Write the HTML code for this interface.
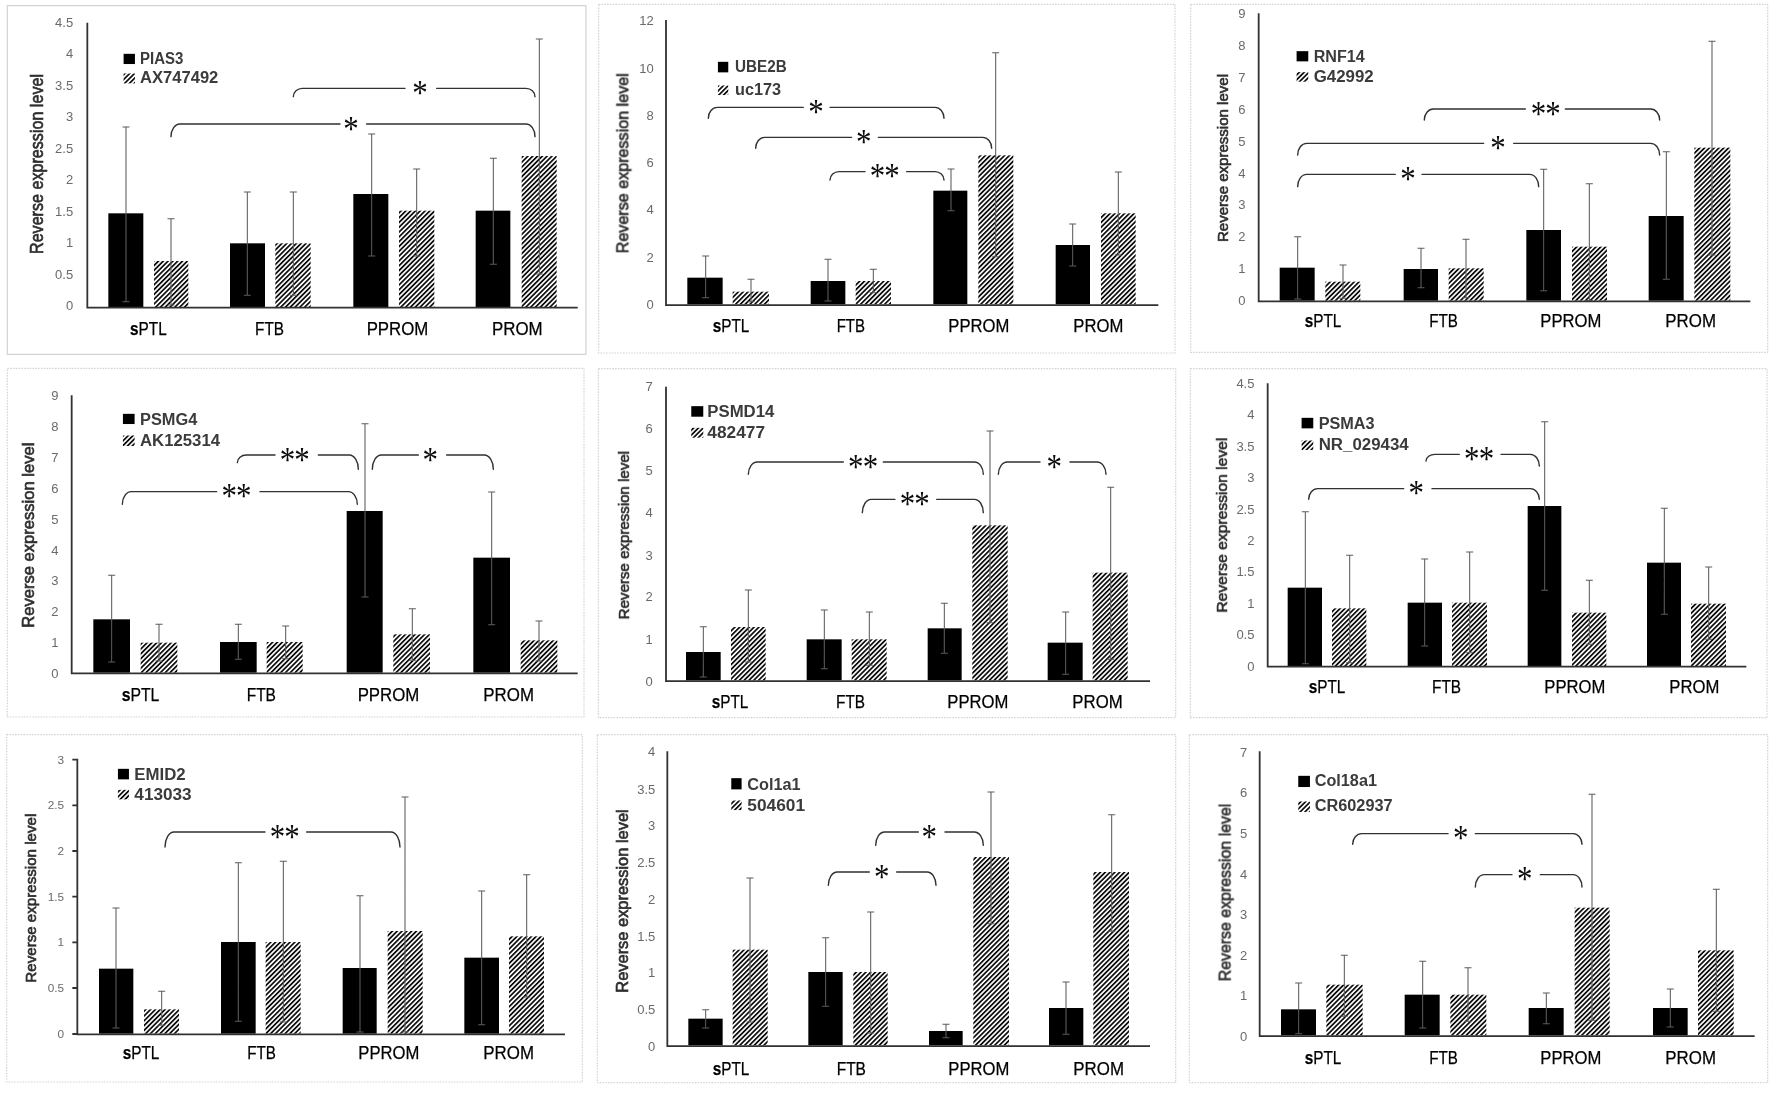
<!DOCTYPE html>
<html lang="en"><head><meta charset="utf-8"><title>Reverse expression level charts</title>
<style>html,body{margin:0;padding:0;background:#fff;}svg{display:block;}text{font-family:"Liberation Sans",sans-serif;}.tk{font-size:13px;fill:#6a6a6a;text-anchor:end;}.yt{font-size:17.5px;fill:#2e2e2e;stroke:#2e2e2e;stroke-width:0.65px;}.ct{font-size:18.5px;fill:#000;stroke:#000;stroke-width:0.25px;}.lg{font-size:16.8px;fill:#3a3a3a;font-weight:bold;}.st{font-family:"Liberation Serif",serif;font-size:36px;fill:#0a0a0a;text-anchor:middle;}.eb{stroke:#5c5c5c;stroke-width:1.05;fill:none;}.br{stroke:#303030;stroke-width:1.4;fill:none;stroke-linecap:round;}.ax{stroke:#303030;stroke-width:1.8;fill:none;}.bd{stroke:#d4d4d4;stroke-width:1.2;fill:#fff;stroke-dasharray:1.6 1.2;}.bd0{stroke:#d2d2d2;stroke-width:1.2;fill:#fff;}</style></head><body>
<svg width="1772" height="1098" viewBox="0 0 1772 1098">
<defs><filter id="bl" x="0" y="0" width="1772" height="1098" filterUnits="userSpaceOnUse"><feGaussianBlur stdDeviation="0.45"/></filter><pattern id="h" width="3.4" height="3.4" patternUnits="userSpaceOnUse" patternTransform="rotate(-45)"><rect width="3.4" height="3.4" fill="#fff"/><rect width="3.4" height="1.75" fill="#111"/></pattern></defs>
<rect width="1772" height="1098" fill="#fff"/>
<g filter="url(#bl)">
<g>
<rect class="bd0" x="7.33" y="5.67" width="578.67" height="348.67"/>
<rect x="108.33" y="213.33" width="35" height="93.67" fill="#000"/>
<rect x="154" y="261" width="34.33" height="46" fill="url(#h)"/>
<rect x="230" y="243.33" width="35" height="63.67" fill="#000"/>
<rect x="275.33" y="243.33" width="35.33" height="63.67" fill="url(#h)"/>
<rect x="353.33" y="194" width="35" height="113" fill="#000"/>
<rect x="399" y="210.67" width="35.33" height="96.33" fill="url(#h)"/>
<rect x="475.67" y="210.67" width="34.67" height="96.33" fill="#000"/>
<rect x="521.67" y="156" width="35" height="151" fill="url(#h)"/>
<path class="eb" d="M126 127V301.67M122.5 127H129.5M122.5 301.67H129.5M171 218.67V305M167.5 218.67H174.5M167.5 305H174.5M247.33 192V295.33M243.83 192H250.83M243.83 295.33H250.83M293.33 192V295.33M289.83 192H296.83M289.83 295.33H296.83M371.67 134V256M368.17 134H375.17M368.17 256H375.17M416.67 169V256M413.17 169H420.17M413.17 256H420.17M493.33 158.33V264.33M489.83 158.33H496.83M489.83 264.33H496.83M539.33 39V274M535.83 39H542.83M535.83 274H542.83"/>
<path class="ax" d="M87.33 22.67V308.4M86.48 307.7H577.67"/>
<text class="tk" x="73.13" y="26.99">4.5</text>
<text class="tk" x="73.13" y="58.32">4</text>
<text class="tk" x="73.13" y="89.99">3.5</text>
<text class="tk" x="73.13" y="121.32">3</text>
<text class="tk" x="73.13" y="152.99">2.5</text>
<text class="tk" x="73.13" y="184.32">2</text>
<text class="tk" x="73.13" y="215.99">1.5</text>
<text class="tk" x="73.13" y="247.32">1</text>
<text class="tk" x="73.13" y="278.99">0.5</text>
<text class="tk" x="73.13" y="310.32">0</text>
<text class="yt" style="font-size:17.5px" transform="translate(37.67 164) rotate(-90)" text-anchor="middle" textLength="180" lengthAdjust="spacingAndGlyphs" x="0" y="5.25">Reverse expression level</text>
<text class="ct" x="130" y="334.83" textLength="36.67" lengthAdjust="spacingAndGlyphs"><tspan font-weight="bold">s</tspan>PTL</text>
<text class="ct" x="255" y="334.83" textLength="29" lengthAdjust="spacingAndGlyphs">FTB</text>
<text class="ct" x="366.67" y="334.83" textLength="61.67" lengthAdjust="spacingAndGlyphs">PPROM</text>
<text class="ct" x="492" y="334.83" textLength="50.67" lengthAdjust="spacingAndGlyphs">PROM</text>
<rect x="123.6" y="53.83" width="11.33" height="10.2" fill="#000"/>
<text class="lg" x="140" y="63.63" textLength="43.33" lengthAdjust="spacingAndGlyphs">PIAS3</text>
<rect x="123.6" y="73.5" width="11.33" height="9.87" fill="url(#h)"/>
<text class="lg" x="140" y="82.97" textLength="78.33" lengthAdjust="spacingAndGlyphs">AX747492</text>
<path class="br" d="M293.33 96.67A9 8.33 0 0 1 302.33 88.33H405M436.67 88.33H526A9 8.33 0 0 1 535 96.67"/>
<text class="st" transform="translate(419.97 104.85) scale(0.86 1)">*</text>
<path class="br" d="M171 136.67A9 12.67 0 0 1 180 124H340M366.67 124H526A9 12.67 0 0 1 535 136.67"/>
<text class="st" transform="translate(350.97 140.52) scale(0.86 1)">*</text>
</g>
<g>
<rect class="bd" x="598.67" y="4.33" width="576.33" height="348.67"/>
<rect x="687.33" y="277.67" width="35.33" height="26.67" fill="#000"/>
<rect x="732.67" y="291.67" width="36.33" height="12.67" fill="url(#h)"/>
<rect x="810.67" y="281" width="34.67" height="23.33" fill="#000"/>
<rect x="855.67" y="281" width="35.33" height="23.33" fill="url(#h)"/>
<rect x="933.33" y="190.67" width="34" height="113.67" fill="#000"/>
<rect x="978.33" y="155.33" width="35" height="149" fill="url(#h)"/>
<rect x="1055.67" y="245" width="34.33" height="59.33" fill="#000"/>
<rect x="1101" y="213.33" width="34.67" height="91" fill="url(#h)"/>
<path class="eb" d="M705.67 256V297.67M702.17 256H709.17M702.17 297.67H709.17M751 279.33V301.67M747.5 279.33H754.5M747.5 301.67H754.5M828 259.33V301M824.5 259.33H831.5M824.5 301H831.5M873.33 269.33V292.67M869.83 269.33H876.83M869.83 292.67H876.83M951 169V210.67M947.5 169H954.5M947.5 210.67H954.5M995.67 52.67V256.67M992.17 52.67H999.17M992.17 256.67H999.17M1072.67 224V266M1069.17 224H1076.17M1069.17 266H1076.17M1118.33 172V255M1114.83 172H1121.83M1114.83 255H1121.83"/>
<path class="ax" d="M666 20V305.73M665.15 305.03H1158.33"/>
<text class="tk" x="653.8" y="24.99">12</text>
<text class="tk" x="653.8" y="72.65">10</text>
<text class="tk" x="653.8" y="119.99">8</text>
<text class="tk" x="653.8" y="166.99">6</text>
<text class="tk" x="653.8" y="214.32">4</text>
<text class="tk" x="653.8" y="261.65">2</text>
<text class="tk" x="653.8" y="309.32">0</text>
<text class="yt" style="font-size:16.3px" transform="translate(623.33 163.33) rotate(-90)" text-anchor="middle" textLength="180" lengthAdjust="spacingAndGlyphs" x="0" y="4.89">Reverse expression level</text>
<text class="ct" x="712.67" y="332.17" textLength="36.67" lengthAdjust="spacingAndGlyphs"><tspan font-weight="bold">s</tspan>PTL</text>
<text class="ct" x="836.67" y="332.17" textLength="28.33" lengthAdjust="spacingAndGlyphs">FTB</text>
<text class="ct" x="948.33" y="332.17" textLength="61" lengthAdjust="spacingAndGlyphs">PPROM</text>
<text class="ct" x="1073.33" y="332.17" textLength="50" lengthAdjust="spacingAndGlyphs">PROM</text>
<rect x="717.93" y="61.83" width="10.33" height="10.53" fill="#000"/>
<text class="lg" x="735" y="71.97" textLength="51.67" lengthAdjust="spacingAndGlyphs">UBE2B</text>
<rect x="717.93" y="85.5" width="10.33" height="9.53" fill="url(#h)"/>
<text class="lg" x="735" y="94.63" textLength="46" lengthAdjust="spacingAndGlyphs">uc173</text>
<path class="br" d="M708.33 118.33A9 11 0 0 1 717.33 107.33H803.33M830 107.33H935A9 11 0 0 1 944 118.33"/>
<text class="st" transform="translate(815.97 123.85) scale(0.86 1)">*</text>
<path class="br" d="M755.67 148.33A9 11 0 0 1 764.67 137.33H851.67M878.33 137.33H982.67A9 11 0 0 1 991.67 148.33"/>
<text class="st" transform="translate(863.63 153.85) scale(0.86 1)">*</text>
<path class="br" d="M830 180A9 8.33 0 0 1 839 171.67H865M906.67 171.67H935A9 8.33 0 0 1 944 180"/>
<text class="st" transform="translate(884.3 188.19) scale(0.86 1)" letter-spacing="-1.1">**</text>
</g>
<g>
<rect class="bd" x="1190.67" y="4.33" width="577" height="348"/>
<rect x="1279.67" y="267.67" width="35" height="33" fill="#000"/>
<rect x="1325.33" y="281.67" width="35" height="19" fill="url(#h)"/>
<rect x="1403.67" y="269" width="34.33" height="31.67" fill="#000"/>
<rect x="1448.67" y="268.33" width="35" height="32.33" fill="url(#h)"/>
<rect x="1526.33" y="230" width="34.67" height="70.67" fill="#000"/>
<rect x="1572" y="246.67" width="35" height="54" fill="url(#h)"/>
<rect x="1648.67" y="216" width="35" height="84.67" fill="#000"/>
<rect x="1694.33" y="147.67" width="36" height="153" fill="url(#h)"/>
<path class="eb" d="M1297.67 236.67V299M1294.17 236.67H1301.17M1294.17 299H1301.17M1343 265V298.33M1339.5 265H1346.5M1339.5 298.33H1346.5M1421 248.33V287.67M1417.5 248.33H1424.5M1417.5 287.67H1424.5M1466 239.33V297.67M1462.5 239.33H1469.5M1462.5 297.67H1469.5M1543.67 169.33V290.67M1540.17 169.33H1547.17M1540.17 290.67H1547.17M1589.33 183.67V300.67M1585.83 183.67H1592.83M1585.83 300.67H1592.83M1666.33 151.67V279.33M1662.83 151.67H1669.83M1662.83 279.33H1669.83M1712 41.33V255M1708.5 41.33H1715.5M1708.5 255H1715.5"/>
<path class="ax" d="M1258.67 13.33V302.07M1257.82 301.37H1750.33"/>
<text class="tk" x="1245.47" y="18.32">9</text>
<text class="tk" x="1245.47" y="49.99">8</text>
<text class="tk" x="1245.47" y="81.99">7</text>
<text class="tk" x="1245.47" y="113.65">6</text>
<text class="tk" x="1245.47" y="145.65">5</text>
<text class="tk" x="1245.47" y="177.65">4</text>
<text class="tk" x="1245.47" y="209.32">3</text>
<text class="tk" x="1245.47" y="241.32">2</text>
<text class="tk" x="1245.47" y="273.32">1</text>
<text class="tk" x="1245.47" y="305.32">0</text>
<text class="yt" style="font-size:15px" transform="translate(1223 158) rotate(-90)" text-anchor="middle" textLength="168" lengthAdjust="spacingAndGlyphs" x="0" y="4.5">Reverse expression level</text>
<text class="ct" x="1304.67" y="327.17" textLength="36.67" lengthAdjust="spacingAndGlyphs"><tspan font-weight="bold">s</tspan>PTL</text>
<text class="ct" x="1429.33" y="327.17" textLength="28.67" lengthAdjust="spacingAndGlyphs">FTB</text>
<text class="ct" x="1540.33" y="327.17" textLength="61" lengthAdjust="spacingAndGlyphs">PPROM</text>
<text class="ct" x="1665.33" y="327.17" textLength="50.67" lengthAdjust="spacingAndGlyphs">PROM</text>
<rect x="1296.6" y="51.17" width="11.67" height="10.2" fill="#000"/>
<text class="lg" x="1313.67" y="61.97" textLength="51" lengthAdjust="spacingAndGlyphs">RNF14</text>
<rect x="1296.6" y="72.17" width="11.67" height="9.53" fill="url(#h)"/>
<text class="lg" x="1313.67" y="81.97" textLength="60" lengthAdjust="spacingAndGlyphs">G42992</text>
<path class="br" d="M1424.33 120A9 11 0 0 1 1433.33 109H1525.33M1565.33 109H1650.67A9 11 0 0 1 1659.67 120"/>
<text class="st" transform="translate(1545.3 125.52) scale(0.86 1)" letter-spacing="-1.1">**</text>
<path class="br" d="M1297.67 155A9 11.67 0 0 1 1306.67 143.33H1483.67M1513.67 143.33H1650.67A9 11.67 0 0 1 1659.67 155"/>
<text class="st" transform="translate(1497.97 159.85) scale(0.86 1)">*</text>
<path class="br" d="M1297.67 186.67A9 12.33 0 0 1 1306.67 174.33H1395.33M1422 174.33H1529.67A9 12.33 0 0 1 1538.67 186.67"/>
<text class="st" transform="translate(1407.97 190.85) scale(0.86 1)">*</text>
</g>
<g>
<rect class="bd" x="7.33" y="368.33" width="576.67" height="348.67"/>
<rect x="93.33" y="619.33" width="36.67" height="53.33" fill="#000"/>
<rect x="140.67" y="642.67" width="36.67" height="30" fill="url(#h)"/>
<rect x="220" y="642" width="36.67" height="30.67" fill="#000"/>
<rect x="266.67" y="642" width="36" height="30.67" fill="url(#h)"/>
<rect x="346.67" y="511" width="36" height="161.67" fill="#000"/>
<rect x="393.33" y="634.33" width="36.67" height="38.33" fill="url(#h)"/>
<rect x="473.33" y="557.67" width="36.67" height="115" fill="#000"/>
<rect x="520.67" y="640.33" width="36.67" height="32.33" fill="url(#h)"/>
<path class="eb" d="M111.67 575.33V662M108.17 575.33H115.17M108.17 662H115.17M159 624.33V661M155.5 624.33H162.5M155.5 661H162.5M238.33 624.33V659.33M234.83 624.33H241.83M234.83 659.33H241.83M285.67 626V658.67M282.17 626H289.17M282.17 658.67H289.17M365 423.67V597M361.5 423.67H368.5M361.5 597H368.5M412.33 608.67V660.33M408.83 608.67H415.83M408.83 660.33H415.83M491.67 492V624.67M488.17 492H495.17M488.17 624.67H495.17M539 621V661M535.5 621H542.5M535.5 661H542.5"/>
<path class="ax" d="M71.67 395.33V674.07M70.82 673.37H577.67"/>
<text class="tk" x="58.47" y="400.32">9</text>
<text class="tk" x="58.47" y="431.32">8</text>
<text class="tk" x="58.47" y="461.99">7</text>
<text class="tk" x="58.47" y="492.99">6</text>
<text class="tk" x="58.47" y="523.65">5</text>
<text class="tk" x="58.47" y="554.65">4</text>
<text class="tk" x="58.47" y="585.32">3</text>
<text class="tk" x="58.47" y="616.32">2</text>
<text class="tk" x="58.47" y="646.99">1</text>
<text class="tk" x="58.47" y="677.99">0</text>
<text class="yt" style="font-size:15.8px" transform="translate(29 535.17) rotate(-90)" text-anchor="middle" textLength="185" lengthAdjust="spacingAndGlyphs" x="0" y="4.74">Reverse expression level</text>
<text class="ct" x="121.67" y="700.5" textLength="37.67" lengthAdjust="spacingAndGlyphs"><tspan font-weight="bold">s</tspan>PTL</text>
<text class="ct" x="246.67" y="700.5" textLength="29.33" lengthAdjust="spacingAndGlyphs">FTB</text>
<text class="ct" x="357.67" y="700.5" textLength="61.67" lengthAdjust="spacingAndGlyphs">PPROM</text>
<text class="ct" x="483.33" y="700.5" textLength="50.67" lengthAdjust="spacingAndGlyphs">PROM</text>
<rect x="122.93" y="413.83" width="11.67" height="10.2" fill="#000"/>
<text class="lg" x="140" y="424.63" textLength="57.33" lengthAdjust="spacingAndGlyphs">PSMG4</text>
<rect x="122.93" y="435.5" width="11.67" height="10.53" fill="url(#h)"/>
<text class="lg" x="140" y="446.3" textLength="80" lengthAdjust="spacingAndGlyphs">AK125314</text>
<path class="br" d="M237.33 462.67A9 7.67 0 0 1 246.33 455H275M318.33 455H349.33A9 14.33 0 0 1 358.33 469.33"/>
<text class="st" transform="translate(294.3 471.52) scale(0.86 1)" letter-spacing="-1.1">**</text>
<path class="br" d="M372.33 469.33A9 14.33 0 0 1 381.33 455H418.33M446.67 455H484.33A9 14.33 0 0 1 493.33 469.33"/>
<text class="st" transform="translate(430.3 471.52) scale(0.86 1)">*</text>
<path class="br" d="M122.33 504.33A9 12.67 0 0 1 131.33 491.67H216.67M260 491.67H348.33A9 12.67 0 0 1 357.33 504.33"/>
<text class="st" transform="translate(235.97 508.19) scale(0.86 1)" letter-spacing="-1.1">**</text>
</g>
<g>
<rect class="bd" x="598.33" y="368.67" width="577.33" height="349"/>
<rect x="686" y="652" width="34.67" height="28.33" fill="#000"/>
<rect x="731" y="627" width="34.67" height="53.33" fill="url(#h)"/>
<rect x="806.67" y="639.33" width="35" height="41" fill="#000"/>
<rect x="851.67" y="639.33" width="35" height="41" fill="url(#h)"/>
<rect x="927.67" y="628.33" width="34" height="52" fill="#000"/>
<rect x="972.33" y="525.33" width="35.33" height="155" fill="url(#h)"/>
<rect x="1047.67" y="642.67" width="35" height="37.67" fill="#000"/>
<rect x="1092.67" y="572.67" width="35" height="107.67" fill="url(#h)"/>
<path class="eb" d="M703.33 626.67V677M699.83 626.67H706.83M699.83 677H706.83M748.33 590V662M744.83 590H751.83M744.83 662H751.83M824.33 610V668.67M820.83 610H827.83M820.83 668.67H827.83M869.33 612V665.33M865.83 612H872.83M865.83 665.33H872.83M944.33 603.33V653.33M940.83 603.33H947.83M940.83 653.33H947.83M990 431V622.67M986.5 431H993.5M986.5 622.67H993.5M1065.67 612V674.33M1062.17 612H1069.17M1062.17 674.33H1069.17M1110.67 487.33V659.33M1107.17 487.33H1114.17M1107.17 659.33H1114.17"/>
<path class="ax" d="M666 386.67V681.73M665.15 681.03H1150"/>
<text class="tk" x="652.8" y="391.32">7</text>
<text class="tk" x="652.8" y="432.99">6</text>
<text class="tk" x="652.8" y="475.32">5</text>
<text class="tk" x="652.8" y="516.99">4</text>
<text class="tk" x="652.8" y="559.65">3</text>
<text class="tk" x="652.8" y="601.32">2</text>
<text class="tk" x="652.8" y="643.65">1</text>
<text class="tk" x="652.8" y="685.65">0</text>
<text class="yt" style="font-size:14.6px" transform="translate(625 535.17) rotate(-90)" text-anchor="middle" textLength="168.33" lengthAdjust="spacingAndGlyphs" x="0" y="4.38">Reverse expression level</text>
<text class="ct" x="711.67" y="708.17" textLength="36.67" lengthAdjust="spacingAndGlyphs"><tspan font-weight="bold">s</tspan>PTL</text>
<text class="ct" x="836" y="708.17" textLength="29" lengthAdjust="spacingAndGlyphs">FTB</text>
<text class="ct" x="947.33" y="708.17" textLength="61" lengthAdjust="spacingAndGlyphs">PPROM</text>
<text class="ct" x="1072.33" y="708.17" textLength="50.33" lengthAdjust="spacingAndGlyphs">PROM</text>
<rect x="691.27" y="406.17" width="12" height="10.53" fill="#000"/>
<text class="lg" x="707.33" y="416.97" textLength="67" lengthAdjust="spacingAndGlyphs">PSMD14</text>
<rect x="691.27" y="427.83" width="12" height="9.87" fill="url(#h)"/>
<text class="lg" x="707.33" y="437.97" textLength="57.67" lengthAdjust="spacingAndGlyphs">482477</text>
<path class="br" d="M748.33 474.33A9 12.33 0 0 1 757.33 462H843.33M883.33 462H974.33A9 12.33 0 0 1 983.33 474.33"/>
<text class="st" transform="translate(862.63 478.52) scale(0.86 1)" letter-spacing="-1.1">**</text>
<path class="br" d="M998.33 474.33A9 12.33 0 0 1 1007.33 462H1040M1070 462H1097A9 12.33 0 0 1 1106 474.33"/>
<text class="st" transform="translate(1054.3 478.52) scale(0.86 1)">*</text>
<path class="br" d="M862.33 512.67A9 13.33 0 0 1 871.33 499.33H895M936.67 499.33H974.33A9 13.33 0 0 1 983.33 512.67"/>
<text class="st" transform="translate(914.3 515.85) scale(0.86 1)" letter-spacing="-1.1">**</text>
</g>
<g>
<rect class="bd" x="1190.33" y="368.67" width="576.67" height="349"/>
<rect x="1287.67" y="587.67" width="34.33" height="78.33" fill="#000"/>
<rect x="1332" y="608.33" width="34.33" height="57.67" fill="url(#h)"/>
<rect x="1407.67" y="602.67" width="34.33" height="63.33" fill="#000"/>
<rect x="1452" y="602.67" width="35" height="63.33" fill="url(#h)"/>
<rect x="1527.67" y="506" width="33.67" height="160" fill="#000"/>
<rect x="1572" y="612.67" width="34.33" height="53.33" fill="url(#h)"/>
<rect x="1647" y="562.67" width="34" height="103.33" fill="#000"/>
<rect x="1691" y="603.67" width="35" height="62.33" fill="url(#h)"/>
<path class="eb" d="M1305.33 511.67V663.67M1301.83 511.67H1308.83M1301.83 663.67H1308.83M1349.67 555.33V662.67M1346.17 555.33H1353.17M1346.17 662.67H1353.17M1424.67 559V646M1421.17 559H1428.17M1421.17 646H1428.17M1469.67 552V652.67M1466.17 552H1473.17M1466.17 652.67H1473.17M1544.67 421.67V590.33M1541.17 421.67H1548.17M1541.17 590.33H1548.17M1589.33 580.33V644.33M1585.83 580.33H1592.83M1585.83 644.33H1592.83M1664.33 508.33V614.33M1660.83 508.33H1667.83M1660.83 614.33H1667.83M1708.67 567V639.33M1705.17 567H1712.17M1705.17 639.33H1712.17"/>
<path class="ax" d="M1267.67 383.33V667.4M1266.82 666.7H1746.33"/>
<text class="tk" x="1254.47" y="387.65">4.5</text>
<text class="tk" x="1254.47" y="419.32">4</text>
<text class="tk" x="1254.47" y="450.65">3.5</text>
<text class="tk" x="1254.47" y="481.99">3</text>
<text class="tk" x="1254.47" y="513.65">2.5</text>
<text class="tk" x="1254.47" y="544.99">2</text>
<text class="tk" x="1254.47" y="576.32">1.5</text>
<text class="tk" x="1254.47" y="607.99">1</text>
<text class="tk" x="1254.47" y="639.32">0.5</text>
<text class="tk" x="1254.47" y="670.65">0</text>
<text class="yt" style="font-size:15px" transform="translate(1222 525.17) rotate(-90)" text-anchor="middle" textLength="175" lengthAdjust="spacingAndGlyphs" x="0" y="4.5">Reverse expression level</text>
<text class="ct" x="1308.67" y="693.17" textLength="36.67" lengthAdjust="spacingAndGlyphs"><tspan font-weight="bold">s</tspan>PTL</text>
<text class="ct" x="1432" y="693.17" textLength="29" lengthAdjust="spacingAndGlyphs">FTB</text>
<text class="ct" x="1544.33" y="693.17" textLength="61" lengthAdjust="spacingAndGlyphs">PPROM</text>
<text class="ct" x="1669.33" y="693.17" textLength="50" lengthAdjust="spacingAndGlyphs">PROM</text>
<rect x="1301.6" y="417.83" width="11.67" height="10.53" fill="#000"/>
<text class="lg" x="1318.67" y="428.63" textLength="56" lengthAdjust="spacingAndGlyphs">PSMA3</text>
<rect x="1301.6" y="440.5" width="11.67" height="9.53" fill="url(#h)"/>
<text class="lg" x="1318.67" y="450.3" textLength="90" lengthAdjust="spacingAndGlyphs">NR_029434</text>
<path class="br" d="M1426 461A9 6.67 0 0 1 1435 454.33H1459.33M1501 454.33H1530.33A9 11.67 0 0 1 1539.33 466"/>
<text class="st" transform="translate(1478.63 470.85) scale(0.86 1)" letter-spacing="-1.1">**</text>
<path class="br" d="M1308.67 499.33A9 10.67 0 0 1 1317.67 488.67H1403.67M1432 488.67H1530.33A9 10.67 0 0 1 1539.33 499.33"/>
<text class="st" transform="translate(1416.3 505.19) scale(0.86 1)">*</text>
</g>
<g>
<rect class="bd" x="6.67" y="734.67" width="575.67" height="347.33"/>
<rect x="99" y="968.67" width="34.33" height="65" fill="#000"/>
<rect x="144" y="1009.33" width="35" height="24.33" fill="url(#h)"/>
<rect x="221" y="942" width="34.67" height="91.67" fill="#000"/>
<rect x="265.67" y="942" width="35" height="91.67" fill="url(#h)"/>
<rect x="342.67" y="968" width="34" height="65.67" fill="#000"/>
<rect x="387.67" y="931" width="35" height="102.67" fill="url(#h)"/>
<rect x="464.33" y="957.67" width="34.67" height="76" fill="#000"/>
<rect x="509" y="936.33" width="35" height="97.33" fill="url(#h)"/>
<path class="eb" d="M116 908V1028M112.5 908H119.5M112.5 1028H119.5M161.67 991.33V1025.33M158.17 991.33H165.17M158.17 1025.33H165.17M238.33 862.67V1021.33M234.83 862.67H241.83M234.83 1021.33H241.83M283.33 861.33V1022M279.83 861.33H286.83M279.83 1022H286.83M360 895.67V1032M356.5 895.67H363.5M356.5 1032H363.5M405 797V1032M401.5 797H408.5M401.5 1032H408.5M481.67 891V1024.67M478.17 891H485.17M478.17 1024.67H485.17M526.67 874.67V997M523.17 874.67H530.17M523.17 997H530.17"/>
<path class="ax" d="M77.33 758.67V1035.07M76.48 1034.37H565M72.33 759.67H77.33M72.33 805.33H77.33M72.33 851H77.33M72.33 896.67H77.33M72.33 942.33H77.33M72.33 988H77.33M72.33 1034H77.33"/>
<text class="tk" style="font-size:11.8px" x="64.13" y="763.55">3</text>
<text class="tk" style="font-size:11.8px" x="64.13" y="809.22">2.5</text>
<text class="tk" style="font-size:11.8px" x="64.13" y="854.89">2</text>
<text class="tk" style="font-size:11.8px" x="64.13" y="900.55">1.5</text>
<text class="tk" style="font-size:11.8px" x="64.13" y="946.22">1</text>
<text class="tk" style="font-size:11.8px" x="64.13" y="991.89">0.5</text>
<text class="tk" style="font-size:11.8px" x="64.13" y="1037.89">0</text>
<text class="yt" style="font-size:15px" transform="translate(31.67 898.17) rotate(-90)" text-anchor="middle" textLength="169" lengthAdjust="spacingAndGlyphs" x="0" y="4.5">Reverse expression level</text>
<text class="ct" x="122.67" y="1059.17" textLength="36.67" lengthAdjust="spacingAndGlyphs"><tspan font-weight="bold">s</tspan>PTL</text>
<text class="ct" x="247.33" y="1059.17" textLength="28.67" lengthAdjust="spacingAndGlyphs">FTB</text>
<text class="ct" x="358.33" y="1059.17" textLength="61" lengthAdjust="spacingAndGlyphs">PPROM</text>
<text class="ct" x="483.33" y="1059.17" textLength="50.67" lengthAdjust="spacingAndGlyphs">PROM</text>
<rect x="117.93" y="768.83" width="11" height="10.53" fill="#000"/>
<text class="lg" x="134.33" y="779.97" textLength="51.33" lengthAdjust="spacingAndGlyphs">EMID2</text>
<rect x="117.93" y="789.83" width="11" height="9.53" fill="url(#h)"/>
<text class="lg" x="134.33" y="799.97" textLength="57.33" lengthAdjust="spacingAndGlyphs">413033</text>
<path class="br" d="M165 847A9 15 0 0 1 174 832H265M306.67 832H391A9 15 0 0 1 400 847"/>
<text class="st" transform="translate(284.3 848.52) scale(0.86 1)" letter-spacing="-1.1">**</text>
</g>
<g>
<rect class="bd" x="597.33" y="734.67" width="578.33" height="348"/>
<rect x="688.33" y="1018.67" width="34.33" height="26.67" fill="#000"/>
<rect x="732.67" y="949.67" width="35" height="95.67" fill="url(#h)"/>
<rect x="808.33" y="972" width="34.33" height="73.33" fill="#000"/>
<rect x="853.33" y="972" width="34.33" height="73.33" fill="url(#h)"/>
<rect x="929" y="1031" width="33.67" height="14.33" fill="#000"/>
<rect x="973.33" y="857" width="35.67" height="188.33" fill="url(#h)"/>
<rect x="1049" y="1008" width="34.33" height="37.33" fill="#000"/>
<rect x="1093.33" y="872" width="35.67" height="173.33" fill="url(#h)"/>
<path class="eb" d="M705.67 1009.67V1028M702.17 1009.67H709.17M702.17 1028H709.17M750 878V1022M746.5 878H753.5M746.5 1022H753.5M825.67 937.67V1006.33M822.17 937.67H829.17M822.17 1006.33H829.17M870.67 912V1033M867.17 912H874.17M867.17 1033H874.17M946 1024.33V1037.67M942.5 1024.33H949.5M942.5 1037.67H949.5M991 792V923.67M987.5 792H994.5M987.5 923.67H994.5M1066 982V1034.33M1062.5 982H1069.5M1062.5 1034.33H1069.5M1111.67 814.67V931.33M1108.17 814.67H1115.17M1108.17 931.33H1115.17"/>
<path class="ax" d="M667.33 751.33V1046.73M666.48 1046.03H1150"/>
<text class="tk" x="655.33" y="756.32">4</text>
<text class="tk" x="655.33" y="793.65">3.5</text>
<text class="tk" x="655.33" y="830.32">3</text>
<text class="tk" x="655.33" y="866.99">2.5</text>
<text class="tk" x="655.33" y="903.65">2</text>
<text class="tk" x="655.33" y="940.65">1.5</text>
<text class="tk" x="655.33" y="977.32">1</text>
<text class="tk" x="655.33" y="1013.99">0.5</text>
<text class="tk" x="655.33" y="1050.65">0</text>
<text class="yt" style="font-size:16.5px" transform="translate(623.33 901) rotate(-90)" text-anchor="middle" textLength="183.33" lengthAdjust="spacingAndGlyphs" x="0" y="4.95">Reverse expression level</text>
<text class="ct" x="712.67" y="1074.83" textLength="36.67" lengthAdjust="spacingAndGlyphs"><tspan font-weight="bold">s</tspan>PTL</text>
<text class="ct" x="836.67" y="1074.83" textLength="29.33" lengthAdjust="spacingAndGlyphs">FTB</text>
<text class="ct" x="948.33" y="1074.83" textLength="61" lengthAdjust="spacingAndGlyphs">PPROM</text>
<text class="ct" x="1073.33" y="1074.83" textLength="50.67" lengthAdjust="spacingAndGlyphs">PROM</text>
<rect x="731.27" y="778.17" width="10.33" height="11.2" fill="#000"/>
<text class="lg" x="747.33" y="789.97" textLength="53.33" lengthAdjust="spacingAndGlyphs">Col1a1</text>
<rect x="731.27" y="800.5" width="10.33" height="9.53" fill="url(#h)"/>
<text class="lg" x="747.33" y="811.3" textLength="57.67" lengthAdjust="spacingAndGlyphs">504601</text>
<path class="br" d="M875.67 845.33A9 13.33 0 0 1 884.67 832H918.33M945 832H974.33A9 13.33 0 0 1 983.33 845.33"/>
<text class="st" transform="translate(929.3 848.52) scale(0.86 1)">*</text>
<path class="br" d="M828.33 885.33A9 13.33 0 0 1 837.33 872H869.33M896.67 872H927A9 13.33 0 0 1 936 885.33"/>
<text class="st" transform="translate(881.63 888.52) scale(0.86 1)">*</text>
</g>
<g>
<rect class="bd" x="1189.33" y="734.67" width="578.33" height="348"/>
<rect x="1281" y="1009.33" width="35" height="26" fill="#000"/>
<rect x="1326.33" y="984.67" width="36.33" height="50.67" fill="url(#h)"/>
<rect x="1404.67" y="994.67" width="35" height="40.67" fill="#000"/>
<rect x="1450.33" y="994.67" width="36" height="40.67" fill="url(#h)"/>
<rect x="1528.67" y="1008" width="35" height="27.33" fill="#000"/>
<rect x="1574.67" y="907.67" width="35" height="127.67" fill="url(#h)"/>
<rect x="1653" y="1008" width="34.67" height="27.33" fill="#000"/>
<rect x="1698" y="950.33" width="35.67" height="85" fill="url(#h)"/>
<path class="eb" d="M1298.67 983V1033.67M1295.17 983H1302.17M1295.17 1033.67H1302.17M1344.33 955.33V1016.33M1340.83 955.33H1347.83M1340.83 1016.33H1347.83M1422.67 961.33V1028M1419.17 961.33H1426.17M1419.17 1028H1426.17M1468 967.67V1021.33M1464.5 967.67H1471.5M1464.5 1021.33H1471.5M1546.33 993V1023.67M1542.83 993H1549.83M1542.83 1023.67H1549.83M1592 794.33V1020.33M1588.5 794.33H1595.5M1588.5 1020.33H1595.5M1670.33 989V1027M1666.83 989H1673.83M1666.83 1027H1673.83M1716.33 889.33V1011.33M1712.83 889.33H1719.83M1712.83 1011.33H1719.83"/>
<path class="ax" d="M1259.67 751.33V1036.73M1258.82 1036.03H1754.67"/>
<text class="tk" x="1247.17" y="756.99">7</text>
<text class="tk" x="1247.17" y="797.32">6</text>
<text class="tk" x="1247.17" y="837.99">5</text>
<text class="tk" x="1247.17" y="878.65">4</text>
<text class="tk" x="1247.17" y="918.99">3</text>
<text class="tk" x="1247.17" y="959.65">2</text>
<text class="tk" x="1247.17" y="1000.32">1</text>
<text class="tk" x="1247.17" y="1040.65">0</text>
<text class="yt" style="font-size:17px" transform="translate(1225.67 892.5) rotate(-90)" text-anchor="middle" textLength="177.67" lengthAdjust="spacingAndGlyphs" x="0" y="5.1">Reverse expression level</text>
<text class="ct" x="1304.67" y="1064.17" textLength="36.67" lengthAdjust="spacingAndGlyphs"><tspan font-weight="bold">s</tspan>PTL</text>
<text class="ct" x="1429.33" y="1064.17" textLength="28.67" lengthAdjust="spacingAndGlyphs">FTB</text>
<text class="ct" x="1540.33" y="1064.17" textLength="61" lengthAdjust="spacingAndGlyphs">PPROM</text>
<text class="ct" x="1665.33" y="1064.17" textLength="50.67" lengthAdjust="spacingAndGlyphs">PROM</text>
<rect x="1298.27" y="775.83" width="11.67" height="11.2" fill="#000"/>
<text class="lg" x="1314.67" y="786.4" textLength="62.33" lengthAdjust="spacingAndGlyphs">Col18a1</text>
<rect x="1298.27" y="801.5" width="11.67" height="10.53" fill="url(#h)"/>
<text class="lg" x="1314.67" y="811.4" textLength="78" lengthAdjust="spacingAndGlyphs">CR602937</text>
<path class="br" d="M1352.67 844.33A9 10.67 0 0 1 1361.67 833.67H1448M1475.33 833.67H1573A9 10.67 0 0 1 1582 844.33"/>
<text class="st" transform="translate(1460.63 850.19) scale(0.86 1)">*</text>
<path class="br" d="M1475.33 887A9 12.33 0 0 1 1484.33 874.67H1512M1540.33 874.67H1573A9 12.33 0 0 1 1582 887"/>
<text class="st" transform="translate(1524.63 891.19) scale(0.86 1)">*</text>
</g>
</g>
</svg></body></html>
